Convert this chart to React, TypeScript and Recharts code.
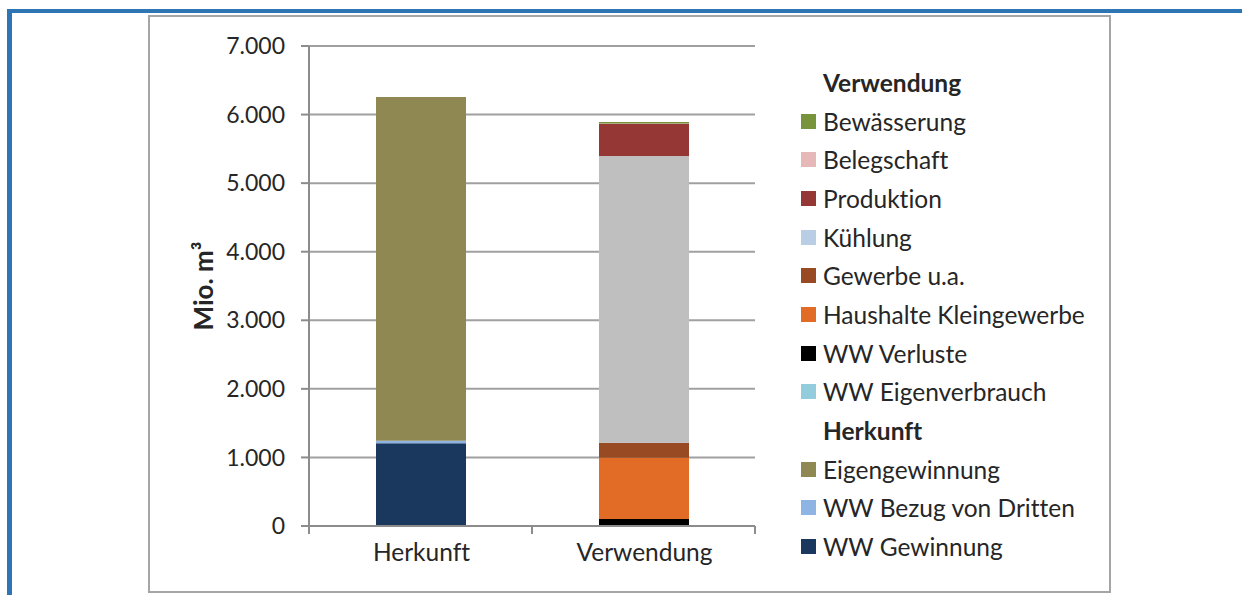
import React from 'react';
import { BarChart, Bar, XAxis, YAxis, CartesianGrid, Legend, Label } from 'recharts';

const categories = ['Herkunft', 'Verwendung'];

// Herkunft series (bottom to top)
const wwGewinnung = [1205, 0];
const wwBezugDritten = [40, 0];
const eigengewinnung = [5013, 0];
// Verwendung series (bottom to top)
const wwEigenverbrauch = [0, 3];
const wwVerluste = [0, 100];
const haushalte = [0, 894];
const gewerbe = [0, 218];
const kuehlung = [0, 4180];
const produktion = [0, 470];
const belegschaft = [0, 5];
const bewaesserung = [0, 20];

const yTicks = [0, 1000, 2000, 3000, 4000, 5000, 6000, 7000];

const seriesDefs = [
  { key: 'WW Gewinnung', values: wwGewinnung, color: '#1A375E', legend: '#1A375E' },
  { key: 'WW Bezug von Dritten', values: wwBezugDritten, color: '#8EB4E3', legend: '#8EB4E3' },
  { key: 'Eigengewinnung', values: eigengewinnung, color: '#908853', legend: '#908853' },
  { key: 'WW Eigenverbrauch', values: wwEigenverbrauch, color: '#93CDDD', legend: '#93CDDD' },
  { key: 'WW Verluste', values: wwVerluste, color: '#000000', legend: '#000000' },
  { key: 'Haushalte Kleingewerbe', values: haushalte, color: '#E26C25', legend: '#E26C25' },
  { key: 'Gewerbe u.a.', values: gewerbe, color: '#984B22', legend: '#984B22' },
  { key: 'Kühlung', values: kuehlung, color: '#BFBFBF', legend: '#B9CDE5' },
  { key: 'Produktion', values: produktion, color: '#953735', legend: '#953735' },
  { key: 'Belegschaft', values: belegschaft, color: '#E6B9B8', legend: '#E6B9B8' },
  { key: 'Bewässerung', values: bewaesserung, color: '#77933C', legend: '#77933C' },
];

const legendRows: { label: string; header?: boolean }[] = [
  { label: 'Verwendung', header: true },
  { label: 'Bewässerung' },
  { label: 'Belegschaft' },
  { label: 'Produktion' },
  { label: 'Kühlung' },
  { label: 'Gewerbe u.a.' },
  { label: 'Haushalte Kleingewerbe' },
  { label: 'WW Verluste' },
  { label: 'WW Eigenverbrauch' },
  { label: 'Herkunft', header: true },
  { label: 'Eigengewinnung' },
  { label: 'WW Bezug von Dritten' },
  { label: 'WW Gewinnung' },
];

const data = categories.map((c, i) => {
  const row: Record<string, any> = { name: c };
  seriesDefs.forEach((s) => {
    row[s.key] = s.values[i];
  });
  return row;
});

const FONT = 'Lato, "Open Sans", sans-serif';
const TEXT = '#262626';
const AXIS = '#8C8C8C';

const fmt = (v: number) => v.toLocaleString('de-DE');

const XTick = (props: any) => {
  const { x, y, payload } = props;
  const half = payload && payload.offset ? payload.offset : 111.5;
  return (
    <g>
      <line x1={x - half} x2={x - half} y1={y - 8} y2={y} stroke={AXIS} strokeWidth={2} />
      <line x1={x + half} x2={x + half} y1={y - 8} y2={y} stroke={AXIS} strokeWidth={2} />
      <text
        x={x + 1}
        y={y + 27}
        textAnchor="middle"
        fill={TEXT}
        fontSize={24.5}
        fontFamily={FONT}
        style={{ fontVariantLigatures: 'none' }}
      >
        {payload.value}
      </text>
    </g>
  );
};

const LegendContent = () => {
  const colorOf: Record<string, string> = {};
  seriesDefs.forEach((s) => (colorOf[s.key] = s.legend));
  return (
    <div style={{ fontFamily: FONT, color: TEXT, fontVariantLigatures: 'none' }}>
      {legendRows.map((r) => (
        <div key={r.label} style={{ height: 38.7, display: 'flex', alignItems: 'center' }}>
          <span
            style={{
              width: 15,
              height: 15,
              background: r.header ? 'transparent' : colorOf[r.label],
              display: 'inline-block',
              marginRight: 7,
              flexShrink: 0,
            }}
          />
          <span style={{ fontSize: 24.5, fontWeight: r.header ? 700 : 400, whiteSpace: 'nowrap' }}>{r.label}</span>
        </div>
      ))}
    </div>
  );
};

export default function App() {
  return (
    <div style={{ position: 'absolute', left: 0, top: 0, width: 1242, height: 595, background: '#fff', overflow: 'hidden' }}>
      <div style={{ position: 'absolute', left: 7, top: 9, width: 1235, height: 4, background: '#2E75B6' }} />
      <div style={{ position: 'absolute', left: 7, top: 9, width: 5, height: 586, background: '#2E75B6' }} />
      <div
        style={{
          position: 'absolute',
          left: 148,
          top: 15,
          width: 963,
          height: 578,
          border: '2px solid #A5A5A5',
          boxSizing: 'border-box',
        }}
      />
      <div style={{ position: 'absolute', left: 0, top: 0 }}>
        <BarChart
          width={1242}
          height={595}
          data={data}
          margin={{ top: 46, right: 487, bottom: 39, left: 229 }}
          barSize={90}
        >
          <CartesianGrid vertical={false} stroke="#A0A0A0" strokeWidth={2} />
          <XAxis
            dataKey="name"
            type="category"
            height={30}
            axisLine={{ stroke: AXIS, strokeWidth: 2 }}
            tickLine={false}
            tick={<XTick />}
            interval={0}
          />
          <YAxis
            type="number"
            width={80}
            domain={[0, 7000]}
            ticks={yTicks}
            tickFormatter={fmt}
            axisLine={{ stroke: AXIS, strokeWidth: 2 }}
            tickLine={{ stroke: AXIS, strokeWidth: 2 }}
            tickSize={8}
            tickMargin={16}
            tick={{ fill: TEXT, fontSize: 23, fontFamily: FONT }}
            interval={0}
          >
            <Label
              content={(p: any) => {
                const vb = p.viewBox || { x: 229, y: 46, width: 80, height: 480 };
                const cx = vb.x - 26;
                const cy = vb.y + vb.height / 2;
                return (
                  <text
                    x={cx}
                    y={cy}
                    transform={`rotate(-90, ${cx}, ${cy})`}
                    textAnchor="middle"
                    dominantBaseline="central"
                    fill={TEXT}
                    fontSize={26}
                    fontWeight={700}
                    fontFamily={FONT}
                  >
                    Mio. m³
                  </text>
                );
              }}
            />
          </YAxis>
          <Legend
            layout="horizontal"
            verticalAlign="middle"
            align="center"
            content={<LegendContent />}
            wrapperStyle={{ position: 'absolute', left: 801, top: 63, width: 320 }}
          />
          {seriesDefs.map((s) => (
            <Bar key={s.key} dataKey={s.key} stackId="a" fill={s.color} isAnimationActive={false} />
          ))}
        </BarChart>
      </div>
    </div>
  );
}
